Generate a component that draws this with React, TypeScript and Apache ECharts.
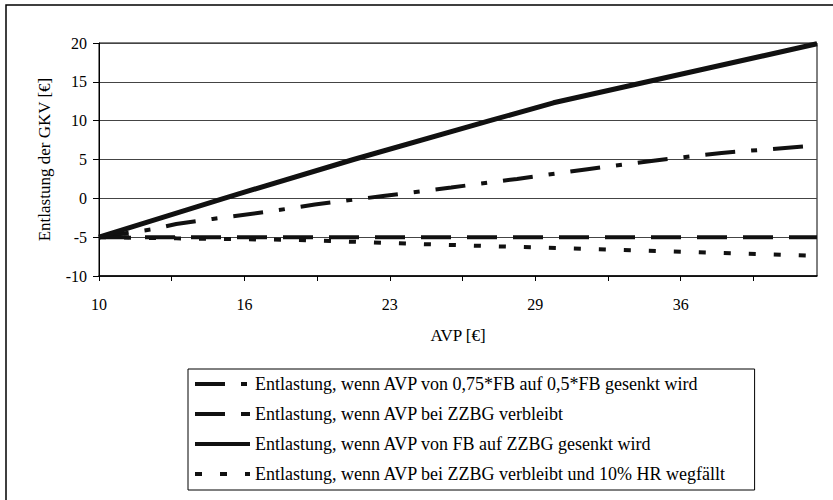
import React, { useEffect, useRef } from "react";
import * as echarts from "echarts";

const FONT = "'Liberation Serif', 'Times New Roman', serif";

// Series names (legend order)
const SERIES_NAMES = [
  "Entlastung, wenn AVP von 0,75*FB auf 0,5*FB gesenkt wird",
  "Entlastung, wenn AVP bei ZZBG verbleibt",
  "Entlastung, wenn AVP von FB auf ZZBG gesenkt wird",
  "Entlastung, wenn AVP bei ZZBG verbleibt und 10% HR wegfällt",
];

// Series 1: 0,75*FB -> 0,5*FB
const AVP_A = [10, 12.3, 13.4, 15.0, 17.7, 19.5, 22.5, 25.5, 28.4, 31.5, 34.4, 37.4, 41.6];
const VAL_A = [-5, -4.0, -3.3, -2.65, -1.6, -0.8, 0.3, 1.4, 2.5, 3.75, 4.85, 5.85, 6.8];

// Series 2: bei ZZBG verbleibt
const AVP_B = [10, 41.6];
const VAL_B = [-5, -5];

// Series 3: von FB auf ZZBG
const AVP_C = [10, 15.5, 21.2, 27.2, 30.0, 41.6];
const VAL_C = [-5, 0, 5, 10, 12.3, 19.9];

// Series 4: bei ZZBG verbleibt und 10% HR wegfällt
const AVP_D = [10, 13.4, 18.6, 21.8, 24.3, 41.6];
const VAL_D = [-5, -5.15, -5.35, -5.65, -5.9, -7.4];

// Axis ticks
const X_MIN = 10;
const X_MAX = 41.6;
const X_TICKS = [10, 13.2, 16.4, 19.6, 22.8, 26, 29.2, 32.4, 35.6, 38.8];
const X_LABEL_TICKS = [10, 16.4, 22.8, 29.2, 35.6];
const Y_MIN = -10;
const Y_MAX = 20;
const Y_STEP = 5;

const zip = (xs: number[], ys: number[]) => xs.map((x, i) => [x, ys[i]]);

export default function App() {
  const ref = useRef<HTMLDivElement>(null);

  useEffect(() => {
    if (!ref.current) return;
    const chart = echarts.init(ref.current, undefined, { renderer: "svg" });

    const common = {
      type: "line" as const,
      symbol: "none",
      showSymbol: false,
      silent: true,
      itemStyle: { color: "#111" },
    };

    chart.setOption({
      animation: false,
      backgroundColor: "#fff",
      color: ["#111", "#111", "#111", "#111"],
      graphic: [
        {
          type: "rect",
          shape: { x: 6, y: 5, width: 900, height: 600 },
          style: { fill: "none", stroke: "#000", lineWidth: 1.5 },
          silent: true,
          z: 0,
        },
      ],
      grid: {
        left: 99,
        right: 16,
        top: 43,
        bottom: 224,
        show: true,
        borderColor: "#000",
        borderWidth: 1,
        backgroundColor: "transparent",
      },
      legend: {
        orient: "vertical",
        left: 188,
        top: 369,
        padding: [5, 28, 6, 5],
        itemGap: 10,
        itemWidth: 55,
        itemHeight: 14,
        borderColor: "#000",
        borderWidth: 1,
        backgroundColor: "#fff",
        selectedMode: false,
        itemStyle: {
          color: "rgba(0,0,0,0)",
          borderColor: "rgba(0,0,0,0)",
          borderWidth: 0,
        },
        lineStyle: { width: 4, color: "#111" },
        textStyle: {
          fontFamily: FONT,
          fontSize: 18,
          lineHeight: 20,
          color: "#000",
        },
        data: SERIES_NAMES,
      },
      xAxis: {
        type: "value",
        min: X_MIN,
        max: X_MAX,
        name: "AVP [€]",
        nameLocation: "middle",
        nameGap: 51,
        nameTextStyle: { fontFamily: FONT, fontSize: 17, color: "#000" },
        axisLine: { show: true, onZero: false, lineStyle: { color: "#000", width: 1.5 } },
        axisTick: {
          show: true,
          length: 5,
          customValues: X_TICKS,
          lineStyle: { color: "#000", width: 1 },
        },
        axisLabel: {
          customValues: X_LABEL_TICKS,
          formatter: (v: number) => String(Math.round(v)),
          fontFamily: FONT,
          fontSize: 16,
          color: "#000",
          margin: 20,
        },
        splitLine: { show: false },
      },
      yAxis: {
        type: "value",
        min: Y_MIN,
        max: Y_MAX,
        interval: Y_STEP,
        name: "Entlastung der GKV [€]",
        nameLocation: "middle",
        nameRotate: 90,
        nameGap: 46,
        nameTextStyle: { fontFamily: FONT, fontSize: 17, color: "#000" },
        axisLine: { show: true, lineStyle: { color: "#000", width: 1 } },
        axisTick: { show: true, length: 6, lineStyle: { color: "#000" } },
        axisLabel: {
          fontFamily: FONT,
          fontSize: 16,
          color: "#000",
          margin: 12,
        },
        splitLine: { show: true, lineStyle: { color: "#444", width: 1 } },
      },
      series: [
        {
          ...common,
          name: SERIES_NAMES[0],
          data: zip(AVP_A, VAL_A),
          z: 3,
          lineStyle: { color: "#111", width: 4, type: [30, 16, 6, 16], cap: "butt" },
        },
        {
          ...common,
          name: SERIES_NAMES[1],
          data: zip(AVP_B, VAL_B),
          z: 3,
          lineStyle: { color: "#111", width: 4, type: [30, 16], cap: "butt" },
        },
        {
          ...common,
          name: SERIES_NAMES[2],
          data: zip(AVP_C, VAL_C),
          z: 4,
          lineStyle: { color: "#111", width: 5, type: "solid", cap: "butt" },
        },
        {
          ...common,
          name: SERIES_NAMES[3],
          data: zip(AVP_D, VAL_D),
          z: 3,
          lineStyle: { color: "#111", width: 4, type: [7, 18], cap: "butt" },
        },
      ],
    });

    return () => chart.dispose();
  }, []);

  return (
    <div
      ref={ref}
      style={{ position: "absolute", left: 0, top: 0, width: 833, height: 500 }}
    />
  );
}
